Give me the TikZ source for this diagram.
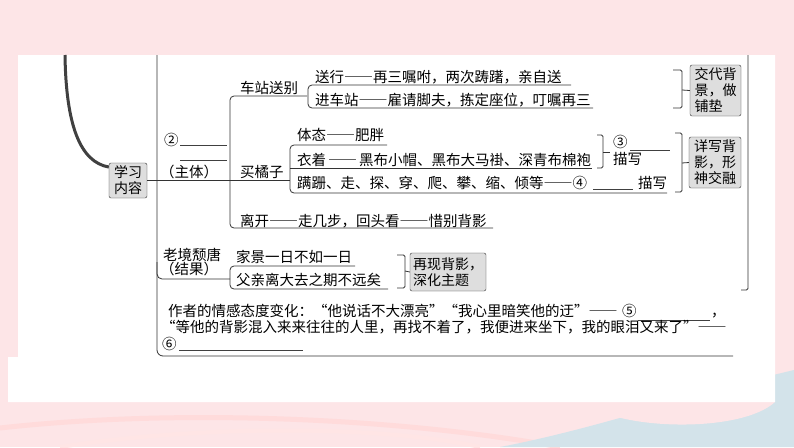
\documentclass[tikz,border=0pt]{standalone}
\usepackage{fontspec}
\setmainfont{Noto Sans CJK SC}[RawFeature=+fwid]
\definecolor{bgpink}{HTML}{FDE5E7}
\definecolor{bgblue}{HTML}{D3E3EA}
\definecolor{boxgray}{HTML}{DEDEDE}
\definecolor{inkline}{HTML}{333333}

\begin{document}
\begin{tikzpicture}[x=1pt, y=-1pt,
	txt/.style={anchor=west, inner sep=0pt, text height=12.8pt, text depth=1.7pt, font=\fontsize{14.5}{17}\selectfont},
	tag/.style={draw=inkline, fill=boxgray, rounded corners=2pt, inner sep=2pt, font=\fontsize{14}{16}\selectfont},
	link/.style={draw=inkline, line width=0.8pt, rounded corners=4pt},
	brak/.style={draw=inkline, line width=0.8pt, rounded corners=1.5pt},
	blank/.style={draw=black!75, line width=0.7pt}]

\useasboundingbox (0,0) rectangle (794,447);

% background
\fill[bgpink] (0,0) rectangle (794,447);
\draw[red!14, line width=5pt] (0,428) .. controls (180,408) and (400,418) .. (560,447);
\draw[red!10, line width=4pt] (60,447) .. controls (200,425) and (380,425) .. (480,447);
\fill[bgblue] (500,447) .. controls (600,428) and (700,392) .. (794,370) -- (794,447) -- cycle;
\fill[bgpink] (585,402) .. controls (615,430) and (740,434) .. (775,402) -- cycle;
\fill[white] (18,55) -- (775,55) -- (775,402) -- (8,402) -- (8,357) -- (18,357) -- cycle;

% root box and its stem
\node[tag, align=center, minimum width=38pt, minimum height=35pt] (xxnr) at (128,180.5) {学习\\内容};
\draw[black!75, line width=3pt] (65,55) .. controls (66,125) and (80,162) .. (xxnr.145);

% frame
\draw[link, rounded corners=6pt] (157,55) -- (157,356) -- (733,356);
\draw[brak] (748,55) -- (748,290) -- (741,290);

% main branch
\draw[link] (xxnr.east) -- (290,180.5);
\draw[link] (307,96) -- (230,96) -- (230,228) -- (493,228);
\node[txt] (q2) at (164,140) {②};
\draw[blank] (180,145) -- (227,145);
\draw[blank] (180,160) -- (227,160);
\node[txt] (zhuti) at (160,172) {（主体）};

% station
\node[txt] (zhanbie) at (240,88) {车站送别};
\draw[link] (571,85) -- (308,85) -- (308,108) -- (593,108);
\node[txt] (songxing) at (315,77) {送行——再三嘱咐，两次踌躇，亲自送};
\node[txt] (jinzhan) at (315,100) {进车站——雇请脚夫，拣定座位，叮嘱再三};
\draw[brak] (673,70) -- (682,70) -- (682,108) -- (673,108);
\node[tag, align=left, minimum width=51pt, minimum height=51pt] (beijing) at (715.5,90.5) {交代背\\景，做\\铺垫};
\draw[brak] (682,90) -- (beijing.west);

% oranges
\node[txt] (juzi) at (240,172) {买橘子};
\draw[link] (387,145) -- (290,145) -- (290,193) -- (667,193);
\draw[link] (290,168) -- (592,168);
\node[txt] (titai) at (297,135) {体态——肥胖};
\node[txt] (yizhuo) at (297,160) {衣着\hspace{2pt}——\hspace{2pt}黑布小帽、黑布大马褂、深青布棉袍};
\node[txt] (panshan) at (297,183) {蹒跚、走、探、穿、爬、攀、缩、倾等——④};
\draw[blank] (593,189) -- (633,189);
\node[txt] (miaoxie4) at (638,183) {描写};
\draw[brak] (597,135) -- (603,135) -- (603,168) -- (597,168);
\draw[brak] (603,152) -- (610,152);
\node[txt] (q3) at (613,142) {③};
\draw[blank] (630,150) -- (670,150);
\node[txt] (miaoxie3) at (613,159) {描写};
\draw[brak] (675,133) -- (682,133) -- (682,192) -- (675,192);
\node[tag, align=left, minimum width=52pt, minimum height=51pt] (xiexie) at (715,162.5) {详写背\\影，形\\神交融};
\draw[brak] (682,163) -- (xiexie.west);

% leaving
\node[txt] (likai) at (240,221) {离开——走几步，回头看——惜别背影};

% old age
\node[txt] (laojing) at (163,255) {老境颓唐};
\node[txt] (jieguo) at (160,269) {（结果）};
\draw[link, rounded corners=5pt] (157,262) |- (230,279);
\draw[link] (355,266) -- (230,266) -- (230,289) -- (388,289);
\node[txt] (jiajing) at (236,257) {家景一日不如一日};
\node[txt] (fuqin) at (236,280) {父亲离大去之期不远矣};
\draw[brak] (397,255) -- (405,255) -- (405,288) -- (397,288);
\node[tag, align=left, minimum width=76pt, minimum height=38pt] (zaixian) at (448,272) {再现背影，\\深化主题};
\draw[brak] (405,271) -- (zaixian.west);

% feelings
\node[txt] (qinggan) at (168,311) {作者的情感态度变化：“他说话不大漂亮”“我心里暗笑他的迂”——};
\node[txt] (q5) at (622,311) {⑤};
\draw[blank] (638,320) -- (710,320);
\node[txt] (douhao) at (711,311) {，};
\node[txt] (yanlei) at (161,327) {“等他的背影混入来来往往的人里，再找不着了，我便进来坐下，我的眼泪又来了”——};
\node[txt] (q6) at (162,344) {⑥};
\draw[blank] (179,350) -- (303,350);

\end{tikzpicture}
\end{document}
